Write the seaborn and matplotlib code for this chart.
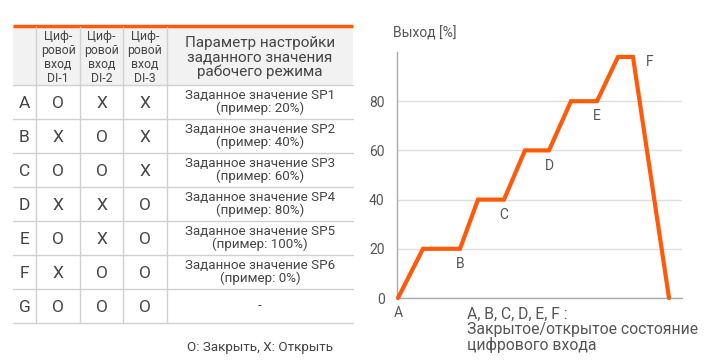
import matplotlib
matplotlib.use("Agg")
import matplotlib.pyplot as plt
import seaborn as sns

# table data
rows = ['A', 'B', 'C', 'D', 'E', 'F', 'G']
di1 = ['O', 'X', 'O', 'X', 'O', 'X', 'O']
di2 = ['X', 'O', 'O', 'X', 'X', 'O', 'O']
di3 = ['X', 'X', 'X', 'O', 'O', 'O', 'O']
params = ['Заданное значение SP1\n(пример: 20%)',
          'Заданное значение SP2\n(пример: 40%)',
          'Заданное значение SP3\n(пример: 60%)',
          'Заданное значение SP4\n(пример: 80%)',
          'Заданное значение SP5\n(пример: 100%)',
          'Заданное значение SP6\n(пример: 0%)',
          '-']
di_headers = ['Циф-\nровой\nвход\nDI-1', 'Циф-\nровой\nвход\nDI-2', 'Циф-\nровой\nвход\nDI-3']
param_header = 'Параметр настройки\nзаданного значения\nрабочего режима'
footnote = 'O: Закрыть, X: Открыть'

# chart data (time steps, output %)
t = [1, 26, 63, 81, 107, 128, 152, 174, 200, 221, 236, 272]
out = [0, 20, 20, 40, 40, 60, 60, 80, 80, 98, 98, 0]
point_labels = ['A', 'B', 'C', 'D', 'E', 'F']
label_idx = [0, 2, 4, 6, 8, 10]
yticks = [0, 20, 40, 60, 80]
ylabel = 'Выход [%]'
note = 'A, B, C, D, E, F :\nЗакрытое/открытое состояние\nцифрового входа'

sns.set_theme(style='white')
plt.rcParams['font.family'] = ['Roboto', 'DejaVu Sans']

orange = '#ff5a0a'
txt = '#444444'
grid = '#d0d0d0'

fig = plt.figure(figsize=(7.2, 3.6), dpi=100)

# --- table, drawn in pixel coordinates
tab = fig.add_axes([0, 0, 1, 1])
tab.set_xlim(0, 720)
tab.set_ylim(360, 0)
tab.axis('off')

x_edges = [13, 36, 80, 123, 167, 353]
top, head_bot, row_h = 26, 85, 34
y_edges = [head_bot + i * row_h for i in range(len(rows) + 1)]

tab.add_patch(plt.Rectangle((x_edges[0], top), x_edges[-1] - x_edges[0], head_bot - top,
                            color='#f2f2f2', lw=0, zorder=0))
tab.plot([x_edges[0], x_edges[-1]], [top, top], color=orange, lw=2.5, solid_capstyle='butt')
for y in y_edges:
    tab.plot([x_edges[0], x_edges[-1]], [y, y], color=grid, lw=1)
for x in x_edges[1:-1]:
    tab.plot([x, x], [top + 1, y_edges[-1]], color=grid, lw=1)

cx = [(a + b) / 2 for a, b in zip(x_edges[:-1], x_edges[1:])]
for i, h in enumerate(di_headers):
    tab.text(cx[i + 1], (top + head_bot) / 2 + 2, h, ha='center', va='center',
             fontsize=8.8, color=txt, linespacing=1.08)
tab.text(cx[4], (top + head_bot) / 2 + 2, param_header, ha='center', va='center',
         fontsize=11, color=txt, linespacing=1.05)

for r in range(len(rows)):
    yc = (y_edges[r] + y_edges[r + 1]) / 2
    for c, v in enumerate([rows[r], di1[r], di2[r], di3[r]]):
        tab.text(cx[c], yc + 1, v, ha='center', va='center', fontsize=12.5, color=txt)
    tab.text(cx[4], yc, params[r], ha='center', va='center', fontsize=9.6, color=txt,
             linespacing=1.05)

tab.text(333, 348, footnote, ha='right', va='center', fontsize=9.7, color=txt)

# --- line chart
ax = fig.add_axes([397 / 720, (360 - 298) / 360, 285 / 720, 246 / 360])
sns.lineplot(x=t, y=out, sort=False, estimator=None, color=orange, lw=3, ax=ax,
             clip_on=False, solid_joinstyle='miter', zorder=5)
ax.set_xlim(0, 285)
ax.set_ylim(0, 100)
ax.set_yticks(yticks)
ax.set_xticks([])
ax.tick_params(axis='y', length=0, pad=9, labelsize=10, labelcolor='#555555')
ax.grid(axis='y', color='#dddddd', lw=1)
ax.set_axisbelow(True)
for s in ['top', 'right']:
    ax.spines[s].set_visible(False)
for s in ['left', 'bottom']:
    ax.spines[s].set_color('#aaaaaa')
    ax.spines[s].set_linewidth(1)

for lab, i in zip(point_labels, label_idx):
    off = (12, -4) if lab == 'F' else (0, -11)
    ax.annotate(lab, (t[i], out[i]), xytext=off, textcoords='offset points',
                ha='center', va='center', fontsize=10, color='#555555', annotation_clip=False)

fig.text(393 / 720, 1 - 33 / 360, ylabel, ha='left', va='center', fontsize=10, color='#555555')
fig.text(467 / 720, 1 - 330 / 360, note, ha='left', va='center', fontsize=11.3,
         color='#555555', linespacing=1.0)

fig.savefig('out.png', dpi=100)
